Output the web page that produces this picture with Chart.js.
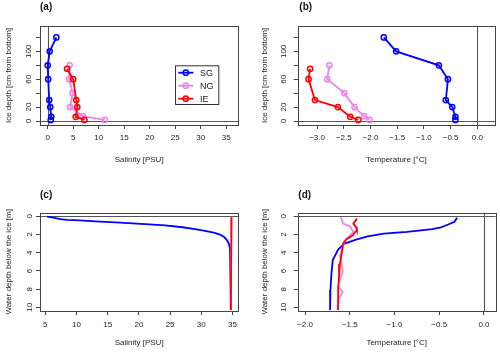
<!DOCTYPE html>
<html><head><meta charset="utf-8">
<script src="https://cdn.jsdelivr.net/npm/chart.js@4.4.1/dist/chart.umd.min.js"></script>
<style>
html,body{margin:0;padding:0;background:#fff;}
#wrap{position:relative;width:500px;height:353px;background:#fff;overflow:hidden;}
canvas{position:absolute;display:block;}
</style></head><body>
<div id="wrap">
<canvas id="pa" width="250" height="176" style="left:0px;top:0px;width:250px;height:176px"></canvas>
<canvas id="pb" width="250" height="176" style="left:250px;top:0px;width:250px;height:176px"></canvas>
<canvas id="pc" width="250" height="177" style="left:0px;top:176px;width:250px;height:177px"></canvas>
<canvas id="pd" width="250" height="177" style="left:250px;top:176px;width:250px;height:177px"></canvas>
</div>
<script>
// ---------- data ----------
const seriesNames = ['SG', 'NG', 'IE'];
const seriesColors = ['#0000ff', '#ee82ee', '#ff0000'];

// sea ice cores (depth in cm from bottom)
const iceDepthSG = [120, 100, 80, 60, 30, 20, 6, 1.5];
const iceSalSG   = [1.7, 0.4, 0.0, 0.1, 0.3, 0.5, 0.7, 0.6];
const iceTempSG  = [-1.75, -1.52, -0.72, -0.55, -0.59, -0.47, -0.41, -0.41];
const iceDepthNG = [80, 60, 40, 20, 7, 1.5];
const iceSalNG   = [4.3, 4.2, 4.9, 4.4, 6.9, 11.2];
const iceTempNG  = [-2.77, -2.81, -2.49, -2.30, -2.12, -2.02];
const iceDepthIE = [75, 60, 30, 20, 6, 1.5];
const iceSalIE   = [3.8, 5.0, 5.6, 5.8, 5.5, 7.2];
const iceTempIE  = [-3.13, -3.16, -3.04, -2.61, -2.38, -2.23];

// water column below the ice (depth in m)
const wDepthSalSG = [0.02, 0.15, 0.3, 0.38, 0.45, 0.55, 0.7, 0.85, 1.0, 1.2, 1.4, 1.6, 1.8, 2.0, 2.3, 2.6, 3.0, 3.5, 4.2, 6.0, 10.3];
const wSalSG      = [5.3, 6.3, 7.4, 8.5, 10.5, 13.0, 17.0, 21.0, 24.2, 27.0, 29.0, 30.6, 32.0, 33.0, 33.7, 34.1, 34.4, 34.6, 34.72, 34.75, 34.75];
const wDepthSalNG = [0.1, 10.3];
const wSalNG      = [34.8, 34.72];
const wDepthSalIE = [0.1, 10.3];
const wSalIE      = [34.85, 34.72];

const wDepthTempSG = [0.15, 0.6, 0.9, 1.2, 1.4, 1.7, 1.9, 2.2, 2.55, 3.0, 3.65, 4.8, 6.3, 8.1, 10.3];
const wTempSG      = [-0.30, -0.33, -0.40, -0.48, -0.58, -0.86, -1.12, -1.30, -1.43, -1.56, -1.63, -1.69, -1.705, -1.716, -1.72];
const wDepthTempNG = [0.07, 0.8, 1.1, 1.7, 2.3, 2.7, 3.4, 4.3, 5.2, 6.1, 7.0, 7.7, 8.3, 9.2, 10.3];
const wTempNG      = [-1.60, -1.575, -1.50, -1.46, -1.52, -1.56, -1.575, -1.61, -1.59, -1.58, -1.61, -1.63, -1.58, -1.63, -1.635];
const wDepthTempIE = [0.25, 0.8, 1.2, 1.5, 2.1, 2.55, 3.0, 4.1, 5.2, 6.6, 8.1, 10.3];
const wTempIE      = [-1.42, -1.46, -1.43, -1.42, -1.47, -1.54, -1.575, -1.59, -1.61, -1.62, -1.63, -1.63];

// ticks
const salTicksIce   = [0, 5, 10, 15, 20, 25, 30, 35];
const tempTicksIce  = [-3.0, -2.5, -2.0, -1.5, -1.0, -0.5, 0.0];
const iceDepthTicks = [0, 20, 40, 60, 80, 100, 120];
const iceDepthTickLabels = [0, 20, 60, 100];
const salTicksWater  = [5, 10, 15, 20, 25, 30, 35];
const tempTicksWater = [-2.0, -1.5, -1.0, -0.5, 0.0];
const waterDepthTicks = [0, 2, 4, 6, 8, 10];

// ---------- chart setup ----------
const FONT = "'Liberation Sans', Arial, Helvetica, sans-serif";
Chart.defaults.font.family = FONT;
Chart.defaults.font.size = 8;
Chart.defaults.color = '#222';
Chart.defaults.animation = false;

const pts = (xs, ys) => xs.map((x, i) => ({x: x, y: ys[i]}));
const fmtTemp = v => (v < 0 ? '\u2212' : '') + Math.abs(v).toFixed(1);

function series(i, xs, ys, withPoints) {
  return {
    label: seriesNames[i],
    data: pts(xs, ys),
    showLine: true,
    borderColor: seriesColors[i],
    backgroundColor: 'rgba(0,0,0,0)',
    borderWidth: 1.8,
    pointRadius: withPoints ? 2.6 : 0,
    pointHoverRadius: withPoints ? 2.6 : 0,
    pointBorderWidth: 1.5,
    pointBorderColor: seriesColors[i],
    pointBackgroundColor: 'rgba(0,0,0,0)',
    tension: 0,
    order: 3 - i
  };
}

function xScale(o) {
  return {
    type: 'linear', position: 'bottom', min: o.min, max: o.max,
    afterBuildTicks: s => { s.ticks = o.ticks.map(v => ({value: v})); },
    afterFit: s => { s.height = o.height; },
    grid: {drawOnChartArea: false, drawTicks: true, tickLength: 4, color: '#444', lineWidth: 1},
    border: {display: false},
    ticks: {autoSkip: false, minRotation: 0, maxRotation: 0, padding: o.tickPad, callback: o.fmt, color: '#222', font: {size: 8}},
    title: {display: true, text: o.title, color: '#222', font: {size: 8}, padding: {top: 0, bottom: o.titlePad}}
  };
}
function yScale(o) {
  return {
    type: 'linear', position: 'left', min: o.min, max: o.max, reverse: !!o.reverse,
    afterBuildTicks: s => { s.ticks = o.ticks.map(v => ({value: v})); },
    afterFit: s => { s.width = o.width; },
    grid: {drawOnChartArea: false, drawTicks: true, tickLength: 4, color: '#444', lineWidth: 1},
    border: {display: false},
    ticks: {autoSkip: false, minRotation: 90, maxRotation: 90, crossAlign: 'center', padding: o.tickPad,
            callback: v => (o.labels.indexOf(v) >= 0 ? String(v) : ''), color: '#222', font: {size: 8}},
    title: {display: true, text: o.title, color: '#222', font: {size: 8}, padding: {top: o.titlePad, bottom: 0}}
  };
}

const decoPlugin = {
  id: 'deco',
  beforeDatasetsDraw(chart, args, o) {
    const {ctx, chartArea: a} = chart;
    const x = chart.scales.x, y = chart.scales.y;
    ctx.save();
    ctx.strokeStyle = '#555';
    ctx.lineWidth = 1.1;
    if (o.hZero) {
      const py = Math.round(y.getPixelForValue(0)) + 0.5;
      ctx.beginPath(); ctx.moveTo(a.left, py); ctx.lineTo(a.right, py); ctx.stroke();
    }
    if (o.vZero) {
      const px = Math.round(x.getPixelForValue(0)) + 0.5;
      ctx.beginPath(); ctx.moveTo(px, a.top); ctx.lineTo(px, a.bottom); ctx.stroke();
    }
    ctx.restore();
  },
  afterDraw(chart, args, o) {
    const {ctx, chartArea: a} = chart;
    ctx.save();
    ctx.strokeStyle = '#444';
    ctx.lineWidth = 1;
    ctx.strokeRect(Math.round(a.left) + 0.5, Math.round(a.top) + 0.5,
                   Math.round(a.right - a.left), Math.round(a.bottom - a.top));
    ctx.fillStyle = '#111';
    ctx.font = "bold 10px " + FONT;
    ctx.textBaseline = 'middle';
    ctx.textAlign = 'left';
    ctx.fillText(o.tag, o.tagX, o.tagY);
    if (o.legend) {
      const L = o.legend;
      ctx.strokeStyle = '#333';
      ctx.lineWidth = 1;
      ctx.strokeRect(L.x + 0.5, L.y + 0.5, L.w, L.h);
      seriesNames.forEach((name, i) => {
        const ry = L.y + L.first + i * L.step;
        ctx.strokeStyle = seriesColors[i];
        ctx.lineWidth = 1.8;
        ctx.beginPath(); ctx.moveTo(L.x + L.l1, ry); ctx.lineTo(L.x + L.l2, ry); ctx.stroke();
        ctx.lineWidth = 1.5;
        ctx.beginPath(); ctx.arc(L.x + (L.l1 + L.l2) / 2, ry, 2.6, 0, 2 * Math.PI); ctx.stroke();
        ctx.fillStyle = '#222';
        ctx.font = "9px " + FONT;
        ctx.fillText(name, L.x + L.tx, ry + 0.5);
      });
    }
    ctx.restore();
  }
};

function make(id, datasets, scales, padding, deco) {
  return new Chart(document.getElementById(id), {
    type: 'scatter',
    data: {datasets: datasets},
    options: {
      responsive: false, maintainAspectRatio: false, animation: false,
      devicePixelRatio: 1,
      layout: {padding: padding},
      scales: scales,
      plugins: {legend: {display: false}, tooltip: {enabled: false}, deco: deco}
    },
    plugins: [decoPlugin]
  });
}

// (a) ice salinity
make('pa', [
  series(0, iceSalSG, iceDepthSG, true),
  series(1, iceSalNG, iceDepthNG, true),
  series(2, iceSalIE, iceDepthIE, true)
], {
  x: xScale({min: -1.51, max: 37.37, ticks: salTicksIce, fmt: v => String(v), title: 'Salinity [PSU]', height: 51, tickPad: 4.2, titlePad: 11.7}),
  y: yScale({min: -5.74, max: 136.4, ticks: iceDepthTicks, labels: iceDepthTickLabels, title: 'Ice depth [cm from bottom]', width: 40, tickPad: 1.0, titlePad: 3.5})
}, {top: 26, right: 11.7, bottom: 0, left: 0},
{tag: '(a)', tagX: 40, tagY: 7.5, hZero: true, vZero: true,
 legend: {x: 175, y: 65.3, w: 43.3, h: 38.7, first: 7.4, step: 13, l1: 3.3, l2: 18.3, tx: 25}});

// (b) ice temperature
make('pb', [
  series(0, iceTempSG, iceDepthSG, true),
  series(1, iceTempNG, iceDepthNG, true),
  series(2, iceTempIE, iceDepthIE, true)
], {
  x: xScale({min: -3.363, max: 0.331, ticks: tempTicksIce, fmt: fmtTemp, title: 'Temperature [\u00B0C]', height: 51, tickPad: 4.2, titlePad: 11.7}),
  y: yScale({min: -5.74, max: 136.4, ticks: iceDepthTicks, labels: iceDepthTickLabels, title: 'Ice depth [cm from bottom]', width: 47.7, tickPad: 3.2, titlePad: 10.2})
}, {top: 26, right: 5, bottom: 0, left: 0},
{tag: '(b)', tagX: 49.3, tagY: 7.5, hZero: true, vZero: true});

// (c) water salinity
make('pc', [
  series(0, wSalSG, wDepthSalSG, false),
  series(1, wSalNG, wDepthSalNG, false),
  series(2, wSalIE, wDepthSalIE, false)
], {
  x: xScale({min: 4.15, max: 35.93, ticks: salTicksWater, fmt: v => String(v), title: 'Salinity [PSU]', height: 42, tickPad: 4.5, titlePad: 5.2}),
  y: yScale({min: -0.4, max: 10.4, reverse: true, ticks: waterDepthTicks, labels: waterDepthTicks, title: 'Water depth below the ice [m]', width: 40, tickPad: 1.55, titlePad: 3.5})
}, {top: 36.7, right: 11.7, bottom: 0, left: 0},
{tag: '(c)', tagX: 40, tagY: 19, hZero: true, vZero: false});

// (d) water temperature
make('pd', [
  series(0, wTempSG, wDepthTempSG, false),
  series(1, wTempNG, wDepthTempNG, false),
  series(2, wTempIE, wDepthTempIE, false)
], {
  x: xScale({min: -2.082, max: 0.131, ticks: tempTicksWater, fmt: fmtTemp, title: 'Temperature [\u00B0C]', height: 42, tickPad: 4.5, titlePad: 5.2}),
  y: yScale({min: -0.4, max: 10.4, reverse: true, ticks: waterDepthTicks, labels: waterDepthTicks, title: 'Water depth below the ice [m]', width: 47.7, tickPad: 5.9, titlePad: 10.2})
}, {top: 36.7, right: 4.3, bottom: 0, left: 0},
{tag: '(d)', tagX: 48.3, tagY: 19, hZero: true, vZero: true});
</script>
</body></html>
